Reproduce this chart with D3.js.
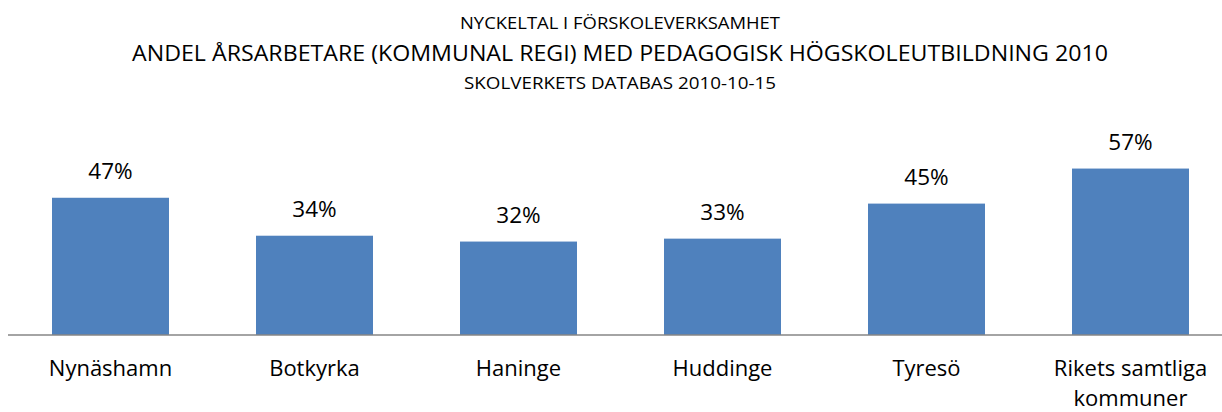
<!DOCTYPE html>
<html><head><meta charset="utf-8">
<script src="https://cdn.jsdelivr.net/npm/d3@7"></script>
<style>body{margin:0;background:#fff}svg{display:block}</style>
</head><body>
<svg id="c" width="1222" height="412"></svg>
<script>
const categories = ["Nynäshamn","Botkyrka","Haninge","Huddinge","Tyresö","Rikets samtliga kommuner"];
const values = [0.47,0.34,0.32,0.33,0.45,0.57];
const titleLines = ["NYCKELTAL I FÖRSKOLEVERKSAMHET","ANDEL ÅRSARBETARE (KOMMUNAL REGI) MED PEDAGOGISK HÖGSKOLEUTBILDNING 2010","SKOLVERKETS DATABAS 2010-10-15"];

const svg = d3.select("#c");
const font = "'Open Sans', sans-serif";
const x = d3.scaleBand().domain(categories).range([8.5, 1232.5]).paddingInner(87/204).paddingOuter(87/408);
const y = d3.scaleLinear().domain([0,0.6]).range([335,159.8]);

// titles
const tl = [
  {t:titleLines[0], y:29, size:16.5, len:320},
  {t:titleLines[1], y:61, size:22.5, len:976},
  {t:titleLines[2], y:89, size:16.5, len:312}
];
svg.selectAll("text.title").data(tl).join("text")
  .attr("class","title").attr("x",620).attr("y",d=>d.y)
  .attr("text-anchor","middle").attr("font-family",font).attr("font-size",d=>d.size)
  .attr("textLength",d=>d.len).attr("lengthAdjust","spacingAndGlyphs")
  .attr("fill","#000").text(d=>d.t);

svg.selectAll("rect.bar").data(categories).join("rect")
  .attr("class","bar")
  .attr("x",d=>x(d)).attr("width",x.bandwidth())
  .attr("y",(d,i)=>y(values[i])).attr("height",(d,i)=>y(0)-y(values[i]))
  .attr("fill","#4F81BD");

// axis
const ax = svg.append("g").attr("transform",`translate(0,${y(0)})`)
  .call(d3.axisBottom(x).tickSize(0).tickFormat(""));
ax.select(".domain").attr("stroke","#868686").attr("stroke-width",1.5).attr("d","M8,0H1222");

// value labels
svg.selectAll("text.val").data(categories).join("text")
  .attr("class","val")
  .attr("x",d=>x(d)+x.bandwidth()/2).attr("y",(d,i)=>y(values[i])-19)
  .attr("text-anchor","middle").attr("font-family",font).attr("font-size",22.5)
  .attr("fill","#000").text((d,i)=>d3.format(".0%")(values[i]));

// category labels
const cl = svg.selectAll("text.cat").data(categories).join("text")
  .attr("class","cat")
  .attr("x",d=>x(d)+x.bandwidth()/2).attr("y",376)
  .attr("text-anchor","middle").attr("font-family",font).attr("font-size",22)
  .attr("fill","#000");
cl.each(function(d){
  const t = d3.select(this);
  const lines = d==="Rikets samtliga kommuner" ? ["Rikets samtliga","kommuner"] : [d];
  lines.forEach((l,i)=>t.append("tspan").attr("x",x(d)+x.bandwidth()/2).attr("dy",i?29.5:0).text(l));
});
</script>
</body></html>
